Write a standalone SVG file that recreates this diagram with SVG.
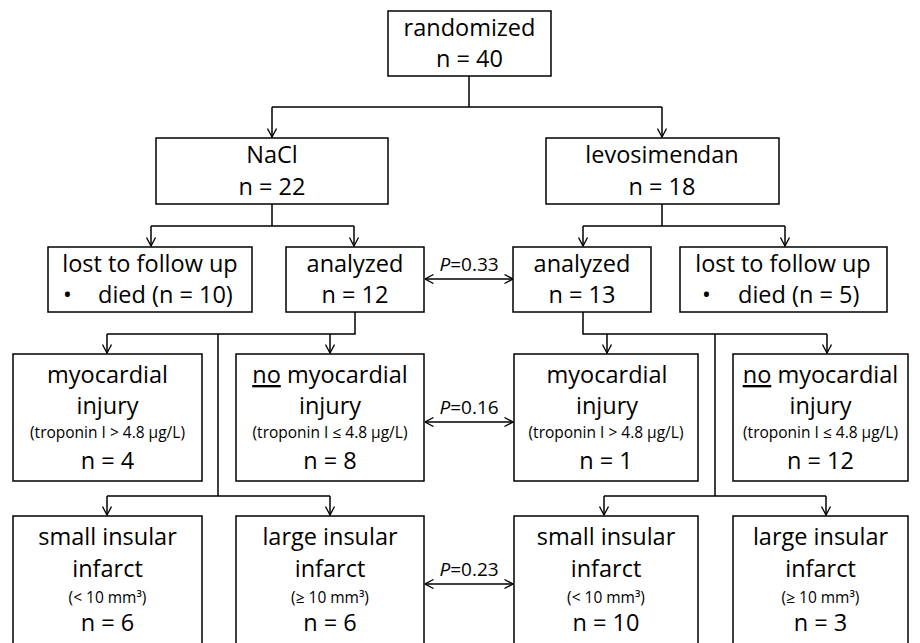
<svg xmlns="http://www.w3.org/2000/svg" width="920" height="643" viewBox="0 0 920 643">
<style>
.box{fill:#fff;stroke:#000;stroke-width:1.5}
.ln{fill:none;stroke:#000;stroke-width:1.5}
.t{font-family:"Open Sans","Liberation Sans",sans-serif;font-size:23.5px;fill:#000;text-anchor:middle}
.tl{font-family:"Open Sans","Liberation Sans",sans-serif;font-size:23.5px;fill:#000}
.s{font-family:"Open Sans","Liberation Sans",sans-serif;font-size:15.5px;fill:#000;text-anchor:middle}
.p{font-family:"Open Sans","Liberation Sans",sans-serif;font-size:19px;fill:#000;text-anchor:middle}
</style>
<defs>
<marker id="ah" viewBox="0 0 10 10" refX="9.5" refY="5" markerWidth="10" markerHeight="10" markerUnits="userSpaceOnUse" orient="auto-start-reverse">
<path d="M1,0.5 L9.5,5 L1,9.5" fill="none" stroke="#000" stroke-width="1.3"/>
</marker>
</defs>
<rect width="920" height="643" fill="#fff"/>
<g id="connectors">
<path class="ln" d="M469,76 V107 M272,107 H662"/>
<path class="ln" d="M272,107 V137" marker-end="url(#ah)"/>
<path class="ln" d="M662,107 V137" marker-end="url(#ah)"/>
<path class="ln" d="M272,204 V226 M151,226 H354"/>
<path class="ln" d="M151,226 V246" marker-end="url(#ah)"/>
<path class="ln" d="M354,226 V246" marker-end="url(#ah)"/>
<path class="ln" d="M662,204 V226 M583,226 H785"/>
<path class="ln" d="M583,226 V246" marker-end="url(#ah)"/>
<path class="ln" d="M785,226 V246" marker-end="url(#ah)"/>
<path class="ln" d="M355,312 V334 H107 M218,334 V496 M107,496 H330"/>
<path class="ln" d="M107,334 V353" marker-end="url(#ah)"/>
<path class="ln" d="M330,334 V353" marker-end="url(#ah)"/>
<path class="ln" d="M107,496 V515" marker-end="url(#ah)"/>
<path class="ln" d="M330,496 V515" marker-end="url(#ah)"/>
<path class="ln" d="M583,312 V334 H827 M715,334 V496 M604,496 H826"/>
<path class="ln" d="M607,334 V353" marker-end="url(#ah)"/>
<path class="ln" d="M827,334 V353" marker-end="url(#ah)"/>
<path class="ln" d="M604,496 V515" marker-end="url(#ah)"/>
<path class="ln" d="M826,496 V515" marker-end="url(#ah)"/>
<path class="ln" d="M425,279 H513" marker-start="url(#ah)" marker-end="url(#ah)"/>
<path class="ln" d="M425,422 H513" marker-start="url(#ah)" marker-end="url(#ah)"/>
<path class="ln" d="M425,584 H513" marker-start="url(#ah)" marker-end="url(#ah)"/>
<text class="p" x="469" y="271"><tspan font-style="italic">P</tspan>=0.33</text>
<text class="p" x="469" y="414"><tspan font-style="italic">P</tspan>=0.16</text>
<text class="p" x="469" y="576"><tspan font-style="italic">P</tspan>=0.23</text>
</g>
<g id="randomized">
<rect class="box" x="388" y="11" width="163" height="65"/>
<text class="t" x="469.5" y="36">randomized</text>
<text class="t" x="469.5" y="67">n = 40</text>
</g>
<g id="nacl">
<rect class="box" x="156" y="138" width="232" height="66"/>
<text class="t" x="272" y="163">NaCl</text>
<text class="t" x="272" y="195">n = 22</text>
</g>
<g id="levosimendan">
<rect class="box" x="546" y="138" width="233" height="66"/>
<text class="t" x="662" y="163">levosimendan</text>
<text class="t" x="662" y="195">n = 18</text>
</g>
<g id="lost-left">
<rect class="box" x="48" y="247" width="204" height="65"/>
<text class="t" x="150" y="272">lost to follow up</text>
<text class="tl" x="63" y="303">•</text>
<text class="tl" x="98" y="303">died (n = 10)</text>
</g>
<g id="analyzed-left">
<rect class="box" x="286" y="247" width="138" height="65"/>
<text class="t" x="355" y="272">analyzed</text>
<text class="t" x="355" y="303">n = 12</text>
</g>
<g id="analyzed-right">
<rect class="box" x="513" y="247" width="138" height="65"/>
<text class="t" x="582" y="272">analyzed</text>
<text class="t" x="582" y="303">n = 13</text>
</g>
<g id="lost-right">
<rect class="box" x="680" y="247" width="207" height="65"/>
<text class="t" x="783" y="272">lost to follow up</text>
<text class="tl" x="702" y="303">•</text>
<text class="tl" x="738" y="303">died (n = 5)</text>
</g>
<g id="injury-nacl">
<rect class="box" x="13" y="354" width="189" height="127"/>
<text class="t" x="107.5" y="383">myocardial</text>
<text class="t" x="107.5" y="414">injury</text>
<text class="s" x="107.5" y="438">(troponin  I &gt; 4.8 μg/L)</text>
<text class="t" x="107.5" y="469">n = 4</text>
</g>
<g id="noinjury-nacl">
<rect class="box" x="236" y="354" width="188" height="127"/>
<text class="t" x="330" y="383"><tspan text-decoration="underline">no</tspan> myocardial</text>
<text class="t" x="330" y="414">injury</text>
<text class="s" x="330" y="438">(troponin  I ≤ 4.8 μg/L)</text>
<text class="t" x="330" y="469">n = 8</text>
</g>
<g id="injury-levo">
<rect class="box" x="514" y="354" width="184" height="127"/>
<text class="t" x="607" y="383">myocardial</text>
<text class="t" x="607" y="414">injury</text>
<text class="s" x="606" y="438">(troponin  I &gt; 4.8 μg/L)</text>
<text class="t" x="606" y="469">n = 1</text>
</g>
<g id="noinjury-levo">
<rect class="box" x="733" y="354" width="175" height="127"/>
<text class="t" x="820.5" y="383"><tspan text-decoration="underline">no</tspan> myocardial</text>
<text class="t" x="820.5" y="414">injury</text>
<text class="s" x="820.5" y="438">(troponin  I ≤ 4.8 μg/L)</text>
<text class="t" x="820.5" y="469">n = 12</text>
</g>
<g id="small-nacl">
<rect class="box" x="13" y="516" width="189" height="140"/>
<text class="t" x="107.5" y="545">small insular</text>
<text class="t" x="107.5" y="577">infarct</text>
<text class="s" x="107.5" y="603">(&lt; 10 mm³)</text>
<text class="t" x="107.5" y="631">n = 6</text>
</g>
<g id="large-nacl">
<rect class="box" x="236" y="516" width="188" height="140"/>
<text class="t" x="330" y="545">large insular</text>
<text class="t" x="330" y="577">infarct</text>
<text class="s" x="330" y="603">(≥ 10 mm³)</text>
<text class="t" x="330" y="631">n = 6</text>
</g>
<g id="small-levo">
<rect class="box" x="514" y="516" width="184" height="140"/>
<text class="t" x="606" y="545">small insular</text>
<text class="t" x="606" y="577">infarct</text>
<text class="s" x="606" y="603">(&lt; 10 mm³)</text>
<text class="t" x="606" y="631">n = 10</text>
</g>
<g id="large-levo">
<rect class="box" x="733" y="516" width="175" height="140"/>
<text class="t" x="820.5" y="545">large insular</text>
<text class="t" x="820.5" y="577">infarct</text>
<text class="s" x="820.5" y="603">(≥ 10 mm³)</text>
<text class="t" x="820.5" y="631">n = 3</text>
</g>
</svg>
